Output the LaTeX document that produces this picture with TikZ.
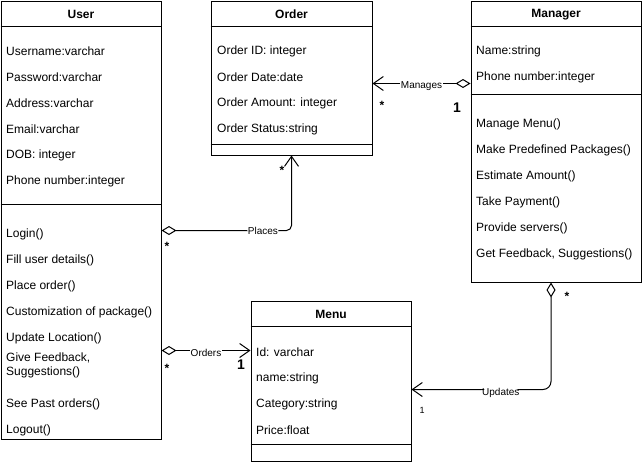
\documentclass[tikz,border=0pt]{standalone}
\usepackage{fontspec}
\setmainfont{Liberation Sans}
\usetikzlibrary{arrows.meta,positioning}
\tikzset{
  every node/.append style={font=\fontsize{12}{14}\selectfont},
  umlbox/.style={draw, line width=1pt, anchor=north west, inner sep=0pt},
  title/.style={font=\fontsize{12}{14}\selectfont\bfseries},
  row/.style={anchor=west, align=left, inner sep=0pt, yshift=-1.5pt},
  sep/.style={line width=1pt},
  assoc/.style={line width=1pt,
                {Diamond[open,length=15pt,width=9pt]}-{Straight Barb[length=10pt,width=14pt]}},
  lbl/.style={fill=white, inner sep=0.5pt, font=\fontsize{10}{12}\selectfont},
  mult/.style={font=\fontsize{12}{14}\selectfont\bfseries, inner sep=0pt},
  multbig/.style={font=\fontsize{14}{16}\selectfont\bfseries, inner sep=0pt},
}
\begin{document}
\begin{tikzpicture}[x=1pt,y=-1pt]
  \useasboundingbox (0,0) rectangle (642,461);
  % class boxes
  \node[umlbox, minimum width=160, minimum height=438] (user) at (0.5,0.5) {};
  \node[umlbox, minimum width=161, minimum height=154] (order) at (210.5,0.5) {};
  \node[umlbox, minimum width=170, minimum height=281] (manager) at (470.5,0.5) {};
  \node[umlbox, minimum width=160, minimum height=160] (menu) at (250.5,300.5) {};
  \node[title] (user-t) at ([yshift=-14]user.north) {User};
  \node[title] (order-t) at ([yshift=-14]order.north) {Order};
  \node[title] (manager-t) at ([yshift=-14]manager.north) {Manager};
  \node[title] (menu-t) at ([yshift=-14]menu.north) {Menu};
  % compartments
  \draw[sep] ([yshift=-26]user.north west) -- ([yshift=-26]user.north east);
  \draw[sep] ([yshift=-204]user.north west) -- ([yshift=-204]user.north east);
  \draw[sep] ([yshift=-26]order.north west) -- ([yshift=-26]order.north east);
  \draw[sep] ([yshift=-144]order.north west) -- ([yshift=-144]order.north east);
  \draw[sep] ([yshift=-26]manager.north west) -- ([yshift=-26]manager.north east);
  \draw[sep] ([yshift=-94]manager.north west) -- ([yshift=-94]manager.north east);
  \draw[sep] ([yshift=-26]menu.north west) -- ([yshift=-26]menu.north east);
  \draw[sep] ([yshift=-144]menu.north west) -- ([yshift=-144]menu.north east);
  % members
  \foreach \y/\txt in {50/Username:varchar, 76/Password:varchar, 102/Address:varchar,
      128/Email:varchar, 154/DOB: integer, 180/Phone number:integer,
      233/Login(), 259/Fill user details(), 285/Place order(),
      311/Customization of package(), 337/Update Location(),
      364/{Give Feedback,\\Suggestions()}, 403/See Past orders(), 429/Logout()}
    \node[row] (user-\y) at (6,\y) {\txt};
  \foreach \y/\txt in {50/Order ID: integer, 76/Order Date:date,
      102/Order Amount: integer, 128/Order Status:string}
    \node[row] (order-\y) at (217,\y) {\txt};
  \foreach \y/\txt in {50/Name:string, 76/Phone number:integer,
      123/Manage Menu(), 149/Make Predefined Packages(), 175/Estimate Amount(),
      201/Take Payment(), 227/Provide servers(), 253/{Get Feedback, Suggestions()}}
    \node[row] (manager-\y) at (476,\y) {\txt};
  \foreach \y/\txt in {351/Id: varchar, 377/name:string, 403/Category:string,
      429/Price:float}
    \node[row] (menu-\y) at (256,\y) {\txt};
  % associations
  \draw[assoc, rounded corners=5] ([yshift=-230]user.north east) -| (order.south)
    node[lbl, pos=0.39] (places) {Places};
  \draw[assoc] ([yshift=-83]manager.north west) -- ([yshift=-83]order.north east)
    node[lbl, midway, yshift=-3] (manages) {Manages};
  \draw[assoc] ([yshift=-350]user.north east) -- ([yshift=-50]menu.north west)
    node[lbl, midway, yshift=-2] (orders) {Orders};
  \draw[assoc, rounded corners=8] ([xshift=-5]manager.south) |- ([yshift=-89]menu.north east)
    node[lbl, pos=0.68, yshift=-3] (updates) {Updates};
  % multiplicities
  \node[mult] (m-places-user) at (167,246) {*};
  \node[mult] (m-places-order) at (282,170) {*};
  \node[mult] (m-manages-order) at (382,105) {*};
  \node[multbig] (m-manages-mgr) at (457,108) {1};
  \node[mult] (m-orders-user) at (167,368) {*};
  \node[multbig] (m-orders-menu) at (241,365) {1};
  \node[mult] (m-updates-mgr) at (567,296) {*};
  \node[font=\fontsize{9}{10}\selectfont, inner sep=0pt] (m-updates-menu) at (422,410) {1};
\end{tikzpicture}
\end{document}
